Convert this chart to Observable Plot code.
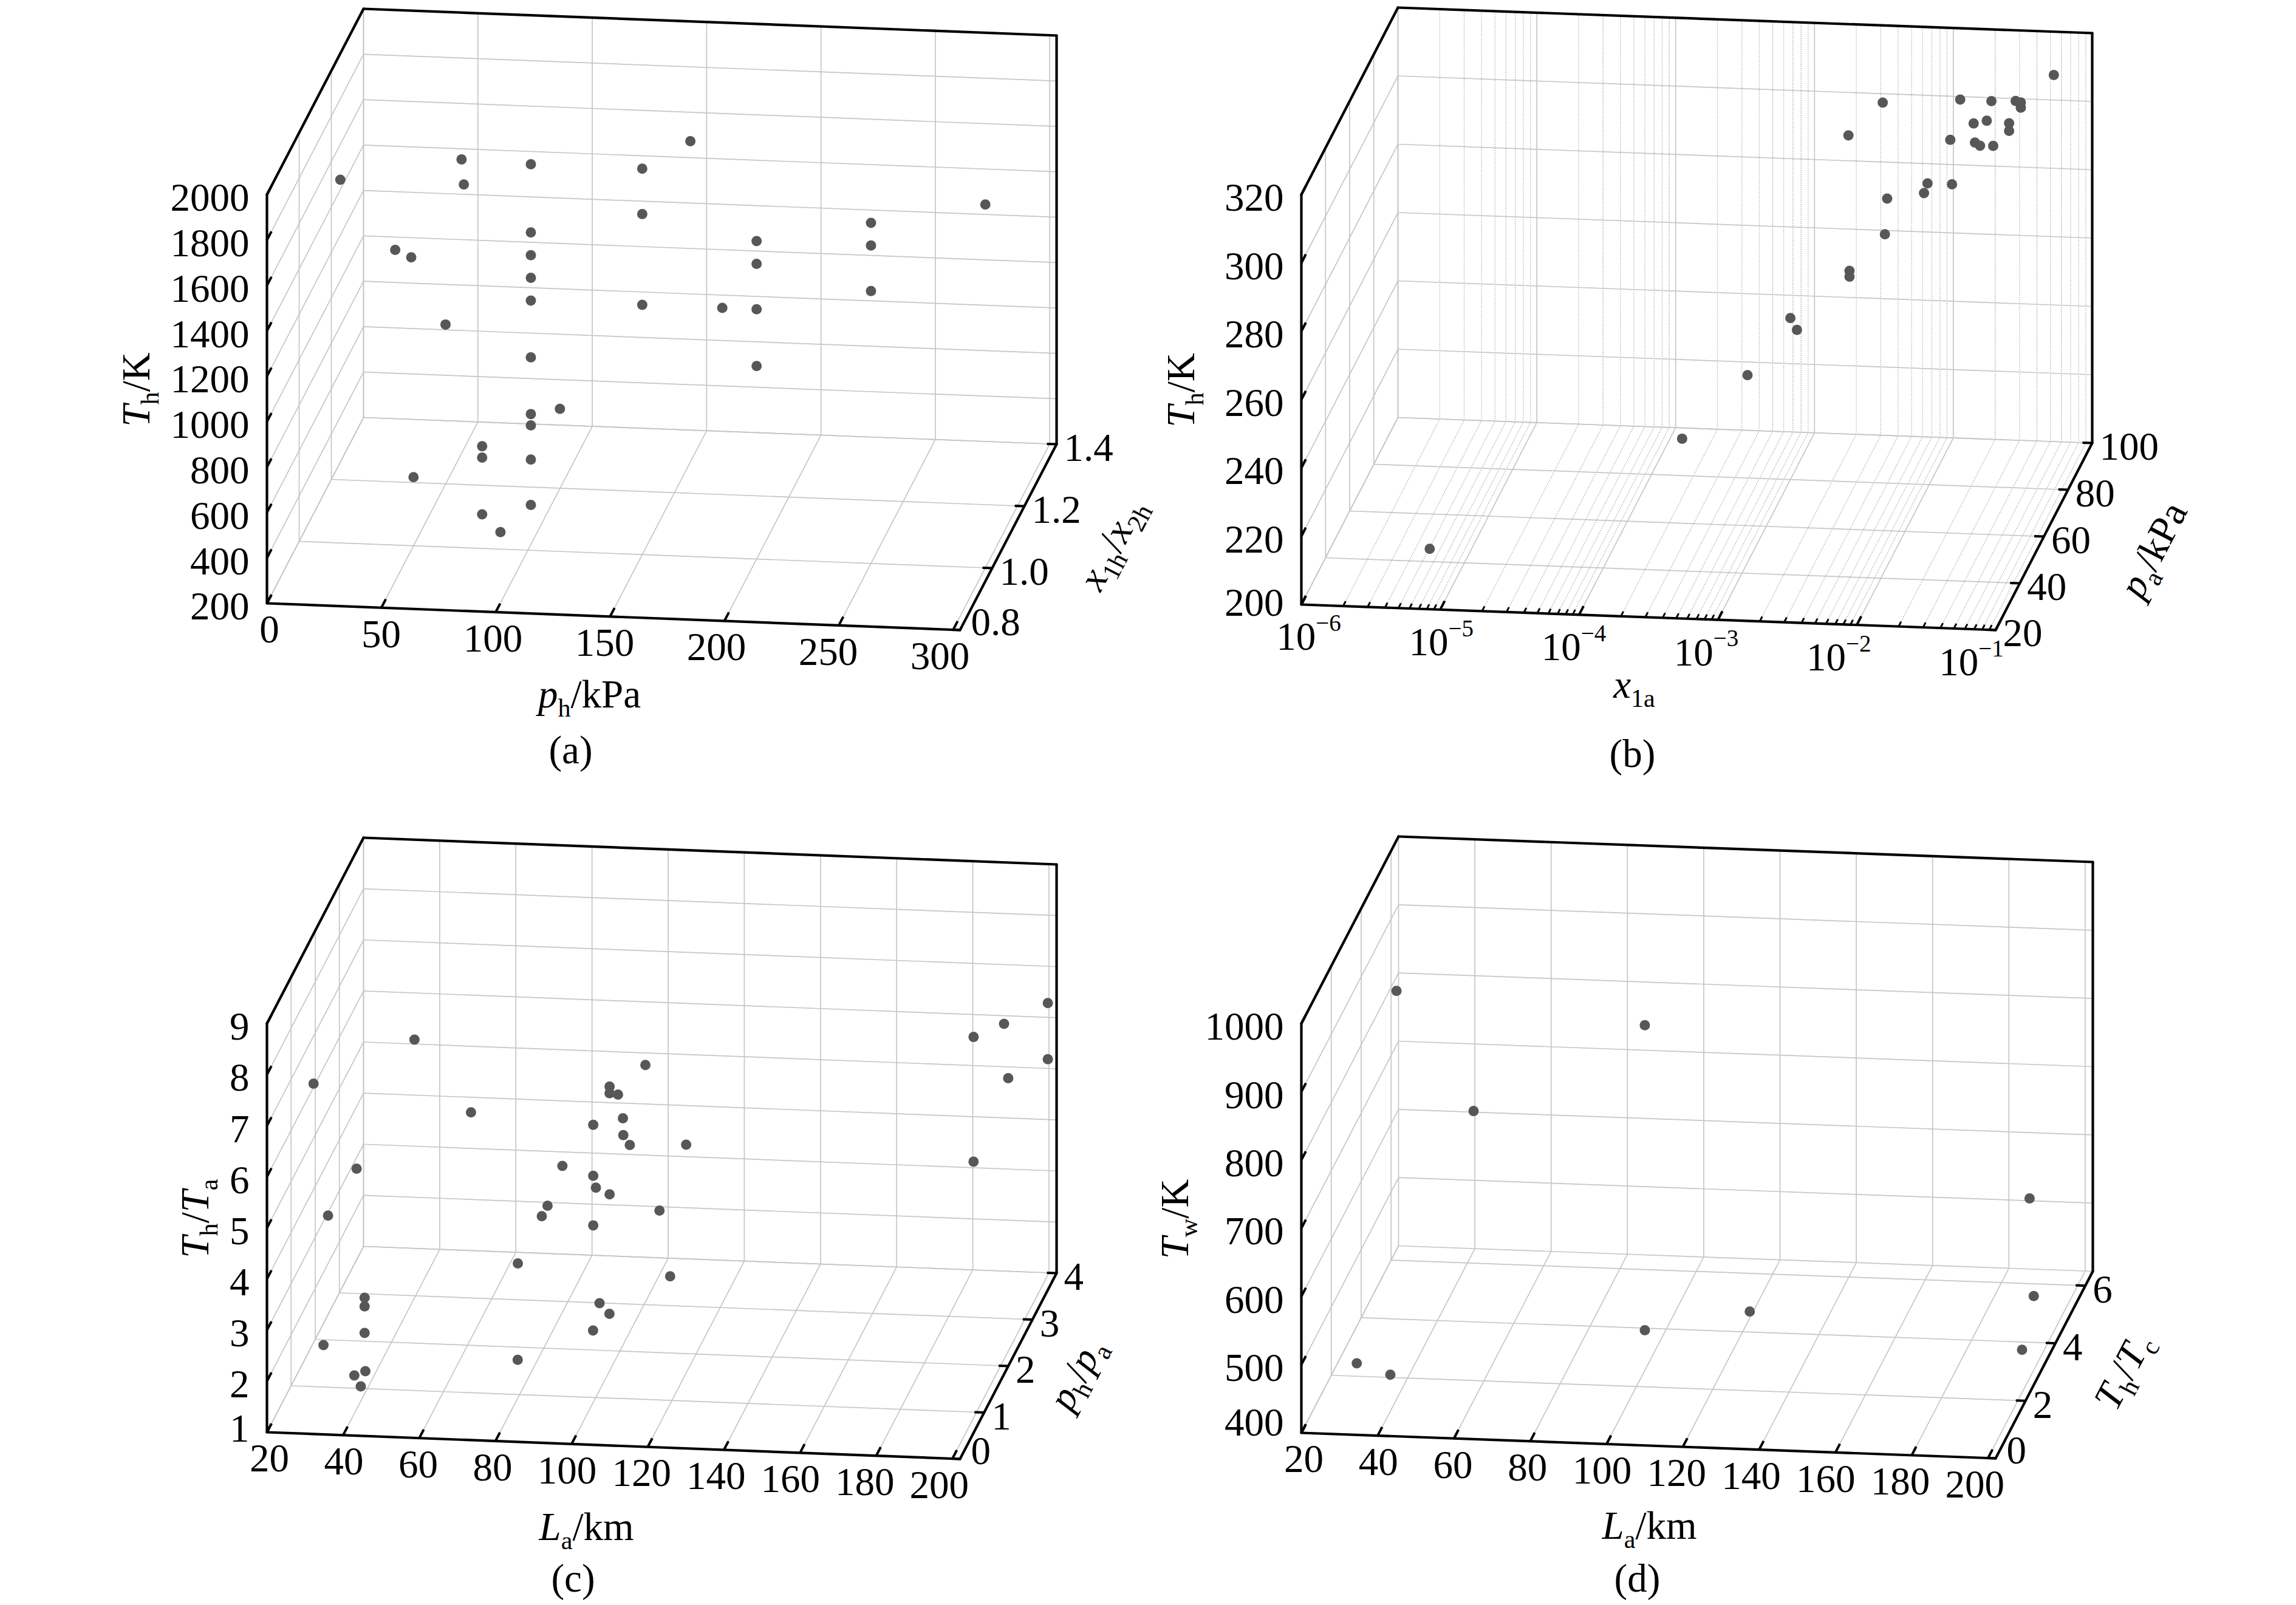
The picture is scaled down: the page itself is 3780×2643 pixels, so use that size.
<!DOCTYPE html>
<html><head><meta charset="utf-8">
<script src="https://cdn.jsdelivr.net/npm/d3@7"></script>
<script src="https://cdn.jsdelivr.net/npm/@observablehq/plot@0.6"></script>
<style>
html,body{margin:0;padding:0;background:#fff;}
#chart svg{display:block;}
</style></head><body><div id="chart"></div>
<script>
// ---------------- data (a) ----------------
const aPh   = [18, 71, 72, 101.3, 164, 150, 150, 300, 250, 250, 250, 200, 200, 200, 200, 185, 150, 42, 49, 101.3, 101.3, 101.3, 101.3, 64, 101.3, 101.3, 114, 101.3, 80, 80, 101.3, 50, 80, 101.3, 88];
const aX1X2 = [1.0, 1.0, 1.0, 1.0, 1.1, 1.0, 1.0, 1.0, 1.0, 1.0, 1.0, 1.0, 1.0, 1.0, 1.0, 1.0, 1.0, 1.0, 1.0, 1.0, 1.0, 1.0, 1.0, 1.0, 1.0, 1.0, 1.0, 1.0, 1.0, 1.0, 1.0, 1.0, 1.0, 1.0, 1.0];
const aTh   = [1800, 1910, 1800, 1900, 1890, 1900, 1700, 1800, 1700, 1600, 1400, 1600, 1500, 1300, 1050, 1300, 1300, 1500, 1470, 1600, 1500, 1400, 1300, 1180, 1050, 800, 828, 750, 650, 600, 600, 502, 350, 400, 275];
const aPhTicks = [0, 50, 100, 150, 200, 250, 300];
const aPhTickLabels = ["0", "50", "100", "150", "200", "250", "300"];
const aThTicks = [200, 400, 600, 800, 1000, 1200, 1400, 1600, 1800, 2000];
const aThTickLabels = ["200", "400", "600", "800", "1000", "1200", "1400", "1600", "1800", "2000"];
const aRatioTicks = [0.8, 1.0, 1.2, 1.4];
const aRatioTickLabels = ["0.8", "1.0", "1.2", "1.4"];

// ---------------- data (b) ----------------
const bX1a = [0.0529, 0.0031, 0.0112, 0.0188, 0.0281, 0.0306, 0.0306, 0.0140, 0.0174, 0.0252, 0.0252, 0.00194, 0.0105, 0.0158, 0.0172, 0.0214, 0.0088, 0.0083, 0.0132, 0.0055, 0.0053, 0.0036, 0.0036, 0.00165, 0.00184, 0.00099, 0.00037, 0.0000084];
const bPa  = [100, 100, 100, 100, 100, 100, 100, 100, 100, 100, 100, 95, 95, 95, 95, 95, 85, 85, 85, 75, 75, 65, 65, 55, 55, 45, 40, 20];
const bTh  = [307.3, 297.4, 299.1, 299.0, 299.3, 298.9, 297.4, 292.3, 293.2, 292.7, 290.5, 290.9, 290.7, 290.2, 289.3, 289.4, 284.7, 281.8, 284.7, 286.8, 276.3, 272.2, 270.5, 264.7, 261.3, 254.5, 238.7, 217.7];
const bXTicks = [1e-6, 1e-5, 1e-4, 1e-3, 1e-2, 1e-1];
const bXTickLabels = ["r:10|p:\u22126", "r:10|p:\u22125", "r:10|p:\u22124", "r:10|p:\u22123", "r:10|p:\u22122", "r:10|p:\u22121"];
const bXMinor = [2, 3, 4, 5, 6, 7, 8, 9];
const bThTicks = [200, 220, 240, 260, 280, 300, 320];
const bThTickLabels = ["200", "220", "240", "260", "280", "300", "320"];
const bPaTicks = [20, 40, 60, 80, 100];
const bPaTickLabels = ["20", "40", "60", "80", "100"];

// ---------------- data (c) ----------------
const cLa = [25.9, 52.4, 60.9, 37.2, 29.7, 106.7, 97.3, 97.3, 99.5, 93.0, 100.8, 100.9, 102.6, 117.4, 84.9, 93.0, 93.7, 97.3, 81.0, 79.5, 110.4, 93.0, 73.2, 113.2, 39.3, 39.3, 39.3, 28.5, 39.5, 36.6, 38.3, 79.5, 101.0, 103.6, 99.3, 199.7, 188.2, 180.2, 199.7, 189.3, 180.2];
const cPhPa = [1, 1, 2, 1, 1, 2, 2, 2, 2, 2, 2, 2, 2, 2, 2, 2, 2, 2, 2, 2, 2, 2, 2, 2, 1, 1, 1, 1, 1, 1, 1, 1, 1, 1, 1, 4, 4, 4, 4, 4, 4];
const cThTa = [6.93, 7.87, 5.56, 5.30, 4.36, 6.62, 6.17, 6.04, 6.02, 5.41, 5.56, 5.23, 5.04, 5.09, 4.58, 4.41, 4.18, 4.06, 3.79, 3.58, 3.78, 3.44, 2.64, 2.50, 2.78, 2.61, 2.09, 1.82, 1.34, 1.25, 1.04, 1.68, 2.85, 2.65, 2.31, 6.28, 5.84, 5.56, 5.18, 4.78, 3.12];
const cLaTicks = [20, 40, 60, 80, 100, 120, 140, 160, 180, 200];
const cLaTickLabels = ["20", "40", "60", "80", "100", "120", "140", "160", "180", "200"];
const cThTaTicks = [1, 2, 3, 4, 5, 6, 7, 8, 9];
const cThTaTickLabels = ["1", "2", "3", "4", "5", "6", "7", "8", "9"];
const cPhPaTicks = [0, 1, 2, 3, 4];
const cPhPaTickLabels = ["0", "1", "2", "3", "4"];

// ---------------- data (d) ----------------
const dLa   = [37.1, 102.2, 57.3, 191.3, 192.4, 195.2, 129.7, 102.2, 30.6, 39.4];
const dThTc = [2, 2, 2, 5, 5, 3.5, 2, 2, 1, 1];
const dTw   = [967, 930, 795, 568, 425, 410, 516, 483, 462, 447];
const dLaTicks = [20, 40, 60, 80, 100, 120, 140, 160, 180, 200];
const dLaTickLabels = ["20", "40", "60", "80", "100", "120", "140", "160", "180", "200"];
const dTwTicks = [400, 500, 600, 700, 800, 900, 1000];
const dTwTickLabels = ["400", "500", "600", "700", "800", "900", "1000"];
const dThTcTicks = [0, 2, 4, 6];
const dThTcTickLabels = ["0", "2", "4", "6"];

// ---------------- panel layout ----------------
const panels = [
  {o:[439,993], X:[1141,44], Z:[0,-673], D:[159,-306], log:false, xDom:[0,303], zDom:[200,2000], dDom:[0.8,1.4],
   xs:aPh, zs:aTh, ds:aX1X2, xT:aPhTicks, xL:aPhTickLabels, zT:aThTicks, zL:aThTickLabels, dT:aRatioTicks, dL:aRatioTickLabels,
   zTitle:"i:T|s:h|r:/K", xTitle:"i:p|s:h|r:/kPa", dTitle:"i:x|s:1h|r:/|i:x|s:2h",
   zBot:6, dBot:-12,
   zTp:[225,641], xTp:[970,1144], dTp:[1830,895], cap:"(a)", capP:[939,1236]},
  {o:[2142,995], X:[1143,42], Z:[0,-675], D:[159,-308], log:true, xDom:[1e-6,1e-1], zDom:[200,320], dDom:[20,100],
   xs:bX1a, zs:bTh, ds:bPa, xT:bXTicks, xL:bXTickLabels, zT:bThTicks, zL:bThTickLabels, dT:bPaTicks, dL:bPaTickLabels,
   zTitle:"i:T|s:h|r:/K", xTitle:"i:x|s:1a", dTitle:"i:p|s:a|r:/kPa",
   zBot:-2, dBot:6,
   zTp:[1945,642], xTp:[2690,1128], dTp:[3545,905], cap:"(b)", capP:[2687,1242]},
  {o:[439,2358], X:[1141,44], Z:[0,-673], D:[159,-306], log:false, xDom:[20,202], zDom:[1,9], dDom:[0,4],
   xs:cLa, zs:cThTa, ds:cPhPa, xT:cLaTicks, xL:cLaTickLabels, zT:cThTaTicks, zL:cThTaTickLabels, dT:cPhPaTicks, dL:cPhPaTickLabels,
   zTitle:"i:T|s:h|r:/|i:T|s:a", xTitle:"i:L|s:a|r:/km", dTitle:"i:p|s:h|r:/|i:p|s:a",
   zBot:-5, dBot:-12,
   zTp:[322,2006], xTp:[965,2515], dTp:[1772,2262], cap:"(c)", capP:[943,2600]},
  {o:[2142,2359], X:[1143,42], Z:[0,-674], D:[160,-308], log:false, xDom:[20,202], zDom:[400,1000], dDom:[0,6.5],
   xs:dLa, zs:dTw, ds:dThTc, xT:dLaTicks, xL:dLaTickLabels, zT:dTwTicks, zL:dTwTickLabels, dT:dThTcTicks, dL:dThTcTickLabels,
   zTitle:"i:T|s:w|r:/K", xTitle:"i:L|s:a|r:/km", dTitle:"i:T|s:h|r:/|i:T|s:c",
   zBot:-16, dBot:-12,
   zTp:[1935,2007], xTp:[2715,2513], dTp:[3495,2258], cap:"(d)", capP:[2695,2600]}
];

const segs = [], pts = [], tEnd = [], tMid = [], tStart = [], tRotZ = [], tRotD = [];
for (const p of panels) {
  const xs = (p.log ? d3.scaleLog() : d3.scaleLinear()).domain(p.xDom).range([0,1]);
  const zs = d3.scaleLinear().domain(p.zDom).range([0,1]);
  const ds = d3.scaleLinear().domain(p.dDom).range([0,1]);
  const P = (x, z, d) => {
    const u = xs(x), v = zs(z), w = ds(d);
    return [p.o[0] + u*p.X[0] + v*p.Z[0] + w*p.D[0], p.o[1] + u*p.X[1] + v*p.Z[1] + w*p.D[1]];
  };
  const seg = (a, b, type) => { const [x1,y1] = P(...a), [x2,y2] = P(...b); segs.push({x1,y1,x2,y2,type}); };
  const [x0,x1] = p.xDom, [z0,z1] = p.zDom, [d0,d1] = p.dDom;
  // minor log grid (b)
  if (p.log) {
    for (let k = -6; k <= -2; k++) for (const m of bXMinor) {
      const xv = m * Math.pow(10, k);
      seg([xv,z0,d1],[xv,z1,d1],"minor");
      seg([xv,z0,d0],[xv,z0,d1],"minor");
    }
  }
  // back wall
  for (const xt of p.xT) seg([xt,z0,d1],[xt,z1,d1],"grid");
  for (const zt of p.zT) seg([x0,zt,d1],[x1,zt,d1],"grid");
  // left wall
  for (const dt of p.dT) seg([x0,z0,dt],[x0,z1,dt],"grid");
  for (const zt of p.zT) seg([x0,zt,d0],[x0,zt,d1],"grid");
  // floor
  for (const xt of p.xT) seg([xt,z0,d0],[xt,z0,d1],"grid");
  for (const dt of p.dT) seg([x0,z0,dt],[x1,z0,dt],"grid");
  // box silhouette
  seg([x0,z0,d0],[x0,z1,d0],"edge");
  seg([x0,z0,d0],[x1,z0,d0],"edge");
  seg([x1,z0,d0],[x1,z0,d1],"edge");
  seg([x1,z0,d1],[x1,z1,d1],"edge");
  seg([x1,z1,d1],[x0,z1,d1],"edge");
  seg([x0,z1,d1],[x0,z1,d0],"edge");
  // tick directions
  const Dl = Math.hypot(...p.D), Xl = Math.hypot(...p.X);
  const Dn = [p.D[0]/Dl, p.D[1]/Dl], Xn = [p.X[0]/Xl, p.X[1]/Xl];
  const tick = (q, dir, len, type) => segs.push({x1:q[0], y1:q[1], x2:q[0]+dir[0]*len, y2:q[1]+dir[1]*len, type});
  p.zT.forEach((zt, i) => {
    const q = P(x0,zt,d0); tick(q, Dn, 16, "tick");
    tEnd.push({x:q[0]-29, y:q[1] + (i === 0 ? p.zBot : 6), t:p.zL[i]});
  });
  p.xT.forEach((xt, i) => {
    const q = P(xt,z0,d0); tick(q, Dn, 16, "tick");
    const u = xs(xt);
    if (p.log) tMid.push({x:q[0] + 12 - 52*u, y:q[1] + 54, t:p.xL[i]});
    else tMid.push({x:q[0] + 4 - 26*u, y:q[1] + 44, t:p.xL[i]});
  });
  p.dT.forEach((dt, i) => {
    const q = P(x1,z0,dt); tick(q, [-Xn[0],-Xn[1]], 16, "tick");
    if (i === 0) tStart.push({x:q[0] + (p.log ? 12 : 18), y:q[1] + p.dBot, t:p.dL[i]});
    else tStart.push({x:q[0] + 12, y:q[1] + 7, t:p.dL[i]});
  });
  if (p.log) {
    for (let k = -6; k <= -2; k++) for (const m of bXMinor) {
      const q = P(m*Math.pow(10,k), z0, d0); tick(q, Dn, 9, "mtick");
    }
  }
  // points
  p.xs.forEach((xv, i) => { const [x,y] = P(xv, p.zs[i], p.ds[i]); pts.push({x,y}); });
  // titles
  tRotZ.push({x:p.zTp[0], y:p.zTp[1], t:p.zTitle});
  tMid.push({x:p.xTp[0], y:p.xTp[1], t:p.xTitle});
  tRotD.push({x:p.dTp[0], y:p.dTp[1], t:p.dTitle});
  tMid.push({x:p.capP[0], y:p.capP[1], t:p.cap});
}

const font = {fontFamily:"Liberation Serif, Times New Roman, serif", fontSize:65, fill:"black"};
const L = {x1:"x1", y1:"y1", x2:"x2", y2:"y2"};
const chart = Plot.plot({
  width: 3780, height: 2643, margin: 0,
  style: {background:"white"},
  x: {domain:[0,3780], range:[0,3780], axis:null},
  y: {domain:[0,2643], range:[0,2643], axis:null},
  marks: [
    Plot.link(segs.filter(s => s.type === "minor"), {...L, stroke:"#9a9a9a", strokeWidth:1.3, strokeDasharray:"1.3,2.2"}),
    Plot.link(segs.filter(s => s.type === "grid"), {...L, stroke:"#c6c6c6", strokeWidth:1.7}),
    Plot.link(segs.filter(s => s.type === "edge"), {...L, stroke:"black", strokeWidth:4.2, strokeLinecap:"round"}),
    Plot.link(segs.filter(s => s.type === "tick"), {...L, stroke:"black", strokeWidth:4}),
    Plot.link(segs.filter(s => s.type === "mtick"), {...L, stroke:"black", strokeWidth:3}),
    Plot.dot(pts, {x:"x", y:"y", r:8.5, fill:"#575757", stroke:"none"}),
    Plot.text(tEnd, {x:"x", y:"y", text:"t", textAnchor:"end", ...font}),
    Plot.text(tMid, {x:"x", y:"y", text:"t", textAnchor:"middle", ...font}),
    Plot.text(tStart, {x:"x", y:"y", text:"t", textAnchor:"start", ...font}),
    Plot.text(tRotZ, {x:"x", y:"y", text:"t", textAnchor:"middle", rotate:-90, ...font}),
    Plot.text(tRotD, {x:"x", y:"y", text:"t", textAnchor:"middle", rotate:-62.5, ...font})
  ]
});
document.getElementById("chart").appendChild(chart);

// rich text: i: italic, r: roman, s: subscript, p: superscript
const FS = 65, NS = "http://www.w3.org/2000/svg";
chart.querySelectorAll("text").forEach(t => {
  const s = t.textContent;
  if (!/^[irsp]:/.test(s)) return;
  const parts = s.split("|");
  t.textContent = "";
  let off = 0;
  for (const part of parts) {
    const k = part[0], v = part.slice(2);
    const ts = document.createElementNS(NS, "tspan");
    let target = 0, size = null;
    if (k === "s") { target = 0.22*FS; size = 0.65*FS; }
    if (k === "p") { target = -0.48*FS; size = 0.6*FS; }
    if (target !== off) { ts.setAttribute("dy", (target - off).toFixed(1)); off = target; }
    if (size) ts.setAttribute("font-size", size);
    ts.setAttribute("font-style", k === "i" ? "italic" : "normal");
    ts.textContent = v;
    t.appendChild(ts);
  }
});
</script>
</body></html>
